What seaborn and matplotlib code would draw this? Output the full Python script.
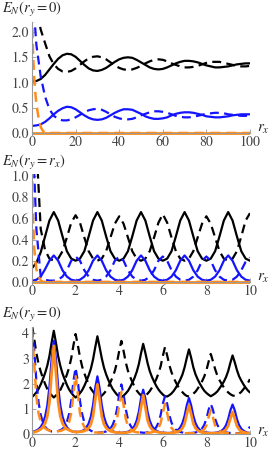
import numpy as np
import seaborn as sns
import matplotlib
matplotlib.use("Agg")
import matplotlib.pyplot as plt

sns.set_style("ticks")
plt.rcParams['font.family'] = ['STIXGeneral', 'DejaVu Serif']
plt.rcParams['mathtext.fontset'] = 'stix'

BLACK = '#000000'
BLUE = '#1414ff'
ORANGE = '#ff8c1a'
DASH = (0, (4, 2.4))

# ---- panel 1 : E_N(r_y=0), r_x from 0 to 100 (read every 2 units) ----
p1_x = np.arange(0, 101, 2)
p1_black_solid = [1.02, 1.03, 1.07, 1.15, 1.26, 1.37, 1.47, 1.54, 1.57, 1.56,
                  1.51, 1.43, 1.35, 1.28, 1.24, 1.23, 1.25, 1.29, 1.35, 1.41,
                  1.46, 1.49, 1.50, 1.49, 1.45, 1.40, 1.35, 1.30, 1.27, 1.26,
                  1.27, 1.30, 1.34, 1.38, 1.41, 1.43, 1.43, 1.42, 1.40, 1.37,
                  1.34, 1.32, 1.30, 1.30, 1.31, 1.32, 1.34, 1.36, 1.37, 1.38,
                  1.38]
p1_black_dash = [3.00, 2.45, 2.05, 1.78, 1.52, 1.36, 1.27, 1.22, 1.21, 1.23,
                 1.28, 1.35, 1.42, 1.48, 1.51, 1.52, 1.50, 1.46, 1.40, 1.34,
                 1.29, 1.26, 1.25, 1.26, 1.29, 1.33, 1.38, 1.42, 1.45, 1.46,
                 1.45, 1.42, 1.38, 1.35, 1.32, 1.30, 1.30, 1.31, 1.33, 1.36,
                 1.39, 1.41, 1.41, 1.41, 1.39, 1.37, 1.35, 1.33, 1.32, 1.32,
                 1.33]
p1_blue_solid = [0.14, 0.15, 0.17, 0.22, 0.29, 0.37, 0.44, 0.49, 0.52, 0.51,
                 0.47, 0.41, 0.35, 0.30, 0.27, 0.26, 0.27, 0.30, 0.35, 0.40,
                 0.44, 0.47, 0.47, 0.46, 0.42, 0.38, 0.33, 0.30, 0.28, 0.28,
                 0.29, 0.31, 0.35, 0.38, 0.40, 0.41, 0.41, 0.40, 0.38, 0.36,
                 0.33, 0.32, 0.31, 0.31, 0.32, 0.33, 0.35, 0.36, 0.37, 0.37,
                 0.37]
p1_blue_dash = [3.00, 1.75, 1.12, 0.72, 0.47, 0.34, 0.28, 0.25, 0.25, 0.27,
                0.31, 0.36, 0.41, 0.45, 0.47, 0.48, 0.46, 0.42, 0.37, 0.32,
                0.29, 0.27, 0.27, 0.28, 0.31, 0.35, 0.38, 0.41, 0.43, 0.43,
                0.42, 0.40, 0.37, 0.34, 0.32, 0.31, 0.31, 0.32, 0.34, 0.36,
                0.38, 0.39, 0.40, 0.40, 0.39, 0.37, 0.36, 0.35, 0.34, 0.34,
                0.35]
p1_orange_x = [0, 0.5, 1, 1.5, 2, 3, 4, 5, 6, 7, 100]
p1_orange_dash = [2.4, 1.55, 1.1, 0.8, 0.58, 0.3, 0.12, 0.04, 0.01, 0.0, 0.0]
p1_orange_solid_x = [0, 100]
p1_orange_solid = [0.0, 0.0]

# ---- panel 2 : E_N(r_y=r_x), r_x from 0 to 10 (read every 0.2) ----
p2_x = np.round(np.arange(0, 10.01, 0.2), 1)
p2_black_solid = [0.13, 0.18, 0.28, 0.43, 0.58, 0.66,
                  0.58, 0.43, 0.29, 0.22, 0.20, 0.22, 0.29, 0.43, 0.58, 0.66,
                  0.58, 0.43, 0.29, 0.22, 0.20, 0.22, 0.29, 0.43, 0.58, 0.66,
                  0.58, 0.43, 0.29, 0.22, 0.20, 0.22, 0.29, 0.43, 0.58, 0.66,
                  0.58, 0.43, 0.29, 0.22, 0.20, 0.22, 0.29, 0.43, 0.58, 0.66,
                  0.58, 0.43, 0.29, 0.22, 0.20]
p2_black_dash = [2.00, 1.30, 0.50, 0.30, 0.22, 0.20,
                 0.22, 0.29, 0.42, 0.56, 0.63, 0.56, 0.42, 0.29, 0.22, 0.20,
                 0.22, 0.29, 0.42, 0.55, 0.62, 0.55, 0.42, 0.29, 0.22, 0.20,
                 0.22, 0.29, 0.42, 0.56, 0.64, 0.56, 0.42, 0.29, 0.22, 0.20,
                 0.22, 0.29, 0.42, 0.55, 0.62, 0.55, 0.42, 0.29, 0.22, 0.20,
                 0.22, 0.29, 0.43, 0.58, 0.65]
p2_blue_solid = [0.01, 0.02, 0.05, 0.12, 0.20, 0.25,
                 0.20, 0.11, 0.05, 0.02, 0.012, 0.02, 0.05, 0.11, 0.20, 0.25,
                 0.20, 0.11, 0.05, 0.02, 0.012, 0.02, 0.05, 0.11, 0.20, 0.25,
                 0.20, 0.11, 0.05, 0.02, 0.012, 0.02, 0.05, 0.11, 0.20, 0.25,
                 0.20, 0.11, 0.05, 0.02, 0.012, 0.02, 0.05, 0.11, 0.20, 0.25,
                 0.20, 0.11, 0.05, 0.02, 0.012]
p2_blue_dash = [1.60, 0.50, 0.05, 0.02, 0.012, 0.012,
                0.02, 0.05, 0.11, 0.20, 0.24, 0.20, 0.11, 0.05, 0.02, 0.012,
                0.02, 0.05, 0.11, 0.20, 0.24, 0.20, 0.11, 0.05, 0.02, 0.012,
                0.02, 0.05, 0.11, 0.20, 0.24, 0.20, 0.11, 0.05, 0.02, 0.012,
                0.02, 0.05, 0.11, 0.20, 0.24, 0.20, 0.11, 0.05, 0.02, 0.012,
                0.02, 0.05, 0.11, 0.19, 0.23]
p2_orange_x = [0, 0.05, 0.1, 0.2, 0.3, 0.4, 0.5, 10]
p2_orange_dash = [1.1, 0.6, 0.32, 0.12, 0.05, 0.015, 0.0, 0.0]
p2_orange_solid_x = [0, 10]
p2_orange_solid = [0.0, 0.0]

# ---- panel 3 : E_N(r_y=0), r_x from 0 to 10 (read every 0.1) ----
p3_x = np.round(np.arange(0, 10.001, 0.1), 1)
p3_black_solid = [1.47, 1.55, 1.65, 1.79, 1.97, 2.18, 2.42, 2.71, 3.10, 3.63,
                  4.10, 3.62, 3.09, 2.70, 2.40, 2.17, 1.95, 1.77, 1.64, 1.53,
                  1.45, 1.52, 1.62, 1.74, 1.91, 2.11, 2.33, 2.59, 2.96, 3.44,
                  3.88, 3.46, 3.01, 2.64, 2.37, 2.15, 1.96, 1.79, 1.67, 1.56,
                  1.49, 1.47, 1.52, 1.61, 1.71, 1.86, 2.03, 2.22, 2.46, 2.77,
                  3.20, 3.58, 3.22, 2.82, 2.50, 2.27, 2.08, 1.91, 1.77, 1.66,
                  1.57, 1.50, 1.49, 1.54, 1.61, 1.71, 1.84, 1.99, 2.16, 2.36,
                  2.65, 3.02, 3.36, 3.03, 2.65, 2.37, 2.17, 2.00, 1.85, 1.72,
                  1.63, 1.56, 1.50, 1.55, 1.61, 1.69, 1.81, 1.94, 2.08, 2.26,
                  2.50, 2.83, 3.12, 2.85, 2.54, 2.29, 2.12, 1.97, 1.84, 1.73,
                  1.65]
p3_black_dash = [4.30, 3.79, 3.22, 2.79, 2.48, 2.22, 1.99, 1.79, 1.65, 1.54,
                 1.45, 1.53, 1.63, 1.75, 1.93, 2.13, 2.36, 2.63, 3.01, 3.52,
                 3.97, 3.54, 3.06, 2.68, 2.41, 2.18, 1.98, 1.80, 1.68, 1.56,
                 1.49, 1.47, 1.52, 1.61, 1.72, 1.88, 2.06, 2.26, 2.51, 2.85,
                 3.30, 3.70, 3.30, 2.85, 2.51, 2.27, 2.07, 1.89, 1.73, 1.62,
                 1.53, 1.46, 1.52, 1.60, 1.70, 1.84, 2.00, 2.18, 2.40, 2.69,
                 3.09, 3.45, 3.12, 2.74, 2.45, 2.23, 2.05, 1.89, 1.76, 1.66,
                 1.57, 1.51, 1.49, 1.53, 1.60, 1.68, 1.80, 1.94, 2.09, 2.28,
                 2.53, 2.87, 3.18, 2.89, 2.58, 2.32, 2.14, 1.99, 1.85, 1.74,
                 1.65, 1.58, 1.53, 1.51, 1.54, 1.60, 1.67, 1.78, 1.89, 2.02,
                 2.18]
p3_blue_solid = [0.08, 0.10, 0.14, 0.19, 0.28, 0.43, 0.69, 1.13, 1.87, 2.98,
                 3.70, 2.98, 1.87, 1.13, 0.69, 0.43, 0.27, 0.17, 0.12, 0.09,
                 0.09, 0.08, 0.09, 0.12, 0.17, 0.26, 0.42, 0.69, 1.15, 1.83,
                 2.29, 1.83, 1.15, 0.69, 0.42, 0.26, 0.17, 0.11, 0.08, 0.06,
                 0.05, 0.05, 0.06, 0.07, 0.09, 0.13, 0.20, 0.32, 0.53, 0.88,
                 1.41, 1.76, 1.41, 0.88, 0.53, 0.32, 0.20, 0.13, 0.09, 0.06,
                 0.05, 0.05, 0.04, 0.04, 0.05, 0.07, 0.10, 0.16, 0.26, 0.43,
                 0.72, 1.14, 1.43, 1.14, 0.72, 0.43, 0.26, 0.16, 0.11, 0.07,
                 0.06, 0.05, 0.04, 0.04, 0.05, 0.06, 0.09, 0.13, 0.21, 0.35,
                 0.59, 0.94, 1.17, 0.94, 0.59, 0.35, 0.21, 0.13, 0.08, 0.05,
                 0.04]
p3_blue_dash = [4.20, 3.36, 2.10, 1.26, 0.76, 0.46, 0.29, 0.19, 0.14, 0.10,
                0.10, 0.10, 0.12, 0.15, 0.20, 0.30, 0.48, 0.79, 1.32, 2.10,
                2.63, 2.10, 1.32, 0.79, 0.47, 0.29, 0.19, 0.13, 0.09, 0.07,
                0.06, 0.06, 0.07, 0.08, 0.10, 0.15, 0.22, 0.36, 0.59, 0.99,
                1.58, 1.97, 1.58, 0.99, 0.59, 0.36, 0.22, 0.14, 0.10, 0.07,
                0.06, 0.05, 0.05, 0.07, 0.08, 0.12, 0.17, 0.27, 0.45, 0.75,
                1.20, 1.50, 1.20, 0.75, 0.45, 0.27, 0.17, 0.11, 0.08, 0.06,
                0.04, 0.04, 0.04, 0.04, 0.05, 0.06, 0.09, 0.13, 0.22, 0.36,
                0.60, 0.96, 1.20, 0.96, 0.60, 0.36, 0.22, 0.13, 0.09, 0.06,
                0.05, 0.04, 0.03, 0.03, 0.03, 0.04, 0.05, 0.07, 0.11, 0.18,
                0.29]
p3_orange_solid = [0.05, 0.07, 0.10, 0.14, 0.19, 0.28, 0.42, 0.70, 1.26, 2.42,
                   3.50, 2.42, 1.26, 0.70, 0.42, 0.28, 0.20, 0.15, 0.12, 0.09,
                   0.08, 0.08, 0.09, 0.10, 0.12, 0.16, 0.24, 0.39, 0.71, 1.36,
                   1.97, 1.36, 0.71, 0.39, 0.24, 0.16, 0.11, 0.09, 0.07, 0.06,
                   0.05, 0.04, 0.05, 0.05, 0.07, 0.09, 0.13, 0.19, 0.31, 0.55,
                   1.06, 1.54, 1.06, 0.55, 0.31, 0.19, 0.12, 0.09, 0.07, 0.05,
                   0.04, 0.03, 0.03, 0.03, 0.04, 0.05, 0.07, 0.09, 0.14, 0.23,
                   0.41, 0.79, 1.14, 0.79, 0.41, 0.23, 0.14, 0.09, 0.06, 0.05,
                   0.04, 0.03, 0.03, 0.03, 0.03, 0.04, 0.05, 0.07, 0.11, 0.18,
                   0.32, 0.61, 0.88, 0.61, 0.32, 0.18, 0.11, 0.07, 0.05, 0.04,
                   0.03]
p3_orange_dash = [4.10, 2.83, 1.48, 0.82, 0.49, 0.33, 0.23, 0.17, 0.13, 0.10,
                  0.10, 0.09, 0.11, 0.12, 0.15, 0.20, 0.28, 0.47, 0.84, 1.61,
                  2.33, 1.61, 0.84, 0.47, 0.28, 0.19, 0.13, 0.10, 0.08, 0.06,
                  0.06, 0.05, 0.05, 0.07, 0.08, 0.10, 0.14, 0.20, 0.33, 0.60,
                  1.15, 1.67, 1.15, 0.60, 0.33, 0.20, 0.13, 0.09, 0.07, 0.06,
                  0.04, 0.04, 0.04, 0.05, 0.05, 0.07, 0.10, 0.14, 0.24, 0.43,
                  0.83, 1.20, 0.83, 0.43, 0.24, 0.14, 0.10, 0.07, 0.05, 0.05,
                  0.03, 0.03, 0.03, 0.03, 0.03, 0.04, 0.05, 0.08, 0.11, 0.19,
                  0.34, 0.66, 0.95, 0.66, 0.34, 0.19, 0.11, 0.08, 0.05, 0.04,
                  0.03, 0.02, 0.02, 0.02, 0.02, 0.02, 0.03, 0.04, 0.06, 0.09,
                  0.15]

W, H = 270, 454
fig = plt.figure(figsize=(W / 100, H / 100), dpi=100)


def px_rect(left, top, right, bottom):
    # pixel box -> figure fraction
    return [left / W, 1 - bottom / H, (right - left) / W, (bottom - top) / H]


def draw_panel(rect, curves, xlim, ylim, xticks, yticks, ylabels):
    ax = fig.add_axes(rect)
    for x, y, color, dashed, lw in curves:
        sns.lineplot(x=x, y=y, ax=ax, color=color, linewidth=lw,
                     estimator=None, sort=False)
        if dashed:
            ax.lines[-1].set_linestyle(DASH)
    ax.set_xlim(*xlim)
    ax.set_ylim(*ylim)
    ax.spines['top'].set_visible(False)
    ax.spines['right'].set_visible(False)
    ax.spines['bottom'].set_position(('data', 0))
    for s in ('left', 'bottom'):
        ax.spines[s].set_color('#999999')
        ax.spines[s].set_linewidth(0.8)
    ax.set_xticks(xticks)
    ax.set_yticks(yticks)
    ax.set_yticklabels(ylabels)
    ax.tick_params(direction='in', length=3, width=0.6, color='#999999',
                   labelsize=10, labelcolor='#444444', pad=2)
    ax.set_xlabel('')
    ax.set_ylabel('')
    return ax


draw_panel(px_rect(32, 22, 250, 135),
           [(p1_x, p1_black_solid, BLACK, False, 1.6),
            (p1_x, p1_black_dash, BLACK, True, 1.6),
            (p1_x, p1_blue_solid, BLUE, False, 1.6),
            (p1_x, p1_blue_dash, BLUE, True, 1.6),
            (p1_orange_solid_x, p1_orange_solid, ORANGE, False, 2.0),
            (p1_orange_x, p1_orange_dash, ORANGE, True, 1.8)],
           (0, 100), (-0.04, 2.2), [0, 20, 40, 60, 80, 100],
           [0, 0.5, 1.0, 1.5, 2.0], ['0.0', '0.5', '1.0', '1.5', '2.0'])

draw_panel(px_rect(32, 174, 250, 284),
           [(p2_x, p2_black_solid, BLACK, False, 1.6),
            (p2_x, p2_black_dash, BLACK, True, 1.6),
            (p2_x, p2_blue_solid, BLUE, False, 1.6),
            (p2_x, p2_blue_dash, BLUE, True, 1.6),
            (p2_orange_solid_x, p2_orange_solid, ORANGE, False, 2.0),
            (p2_orange_x, p2_orange_dash, ORANGE, True, 1.8)],
           (0, 10), (-0.02, 1.02), [0, 2, 4, 6, 8, 10],
           [0, 0.2, 0.4, 0.6, 0.8, 1.0], ['0.0', '0.2', '0.4', '0.6', '0.8', '1.0'])

draw_panel(px_rect(32, 327, 250, 436),
           [(p3_x, p3_black_solid, BLACK, False, 1.6),
            (p3_x, p3_black_dash, BLACK, True, 1.6),
            (p3_x, p3_blue_solid, BLUE, False, 1.6),
            (p3_x, p3_blue_dash, BLUE, True, 1.6),
            (p3_x, p3_orange_solid, ORANGE, False, 2.0),
            (p3_x, p3_orange_dash, ORANGE, True, 1.8)],
           (0, 10), (-0.08, 4.25), [0, 2, 4, 6, 8, 10],
           [0, 1, 2, 3, 4], ['0', '1', '2', '3', '4'])

# panel titles and axis labels, placed in pixels like the reference
for ty, txt in [(13, r'$E_N(r_y{=}0)$'), (166, r'$E_N(r_y{=}r_x)$'),
                (318, r'$E_N(r_y{=}0)$')]:
    fig.text(2 / W, 1 - ty / H, txt, fontsize=10.5, va='baseline')
for ty in (132, 281, 435):
    fig.text(257 / W, 1 - ty / H, r'$r_x$', fontsize=11, va='baseline')

fig.savefig('out.png', dpi=100)
